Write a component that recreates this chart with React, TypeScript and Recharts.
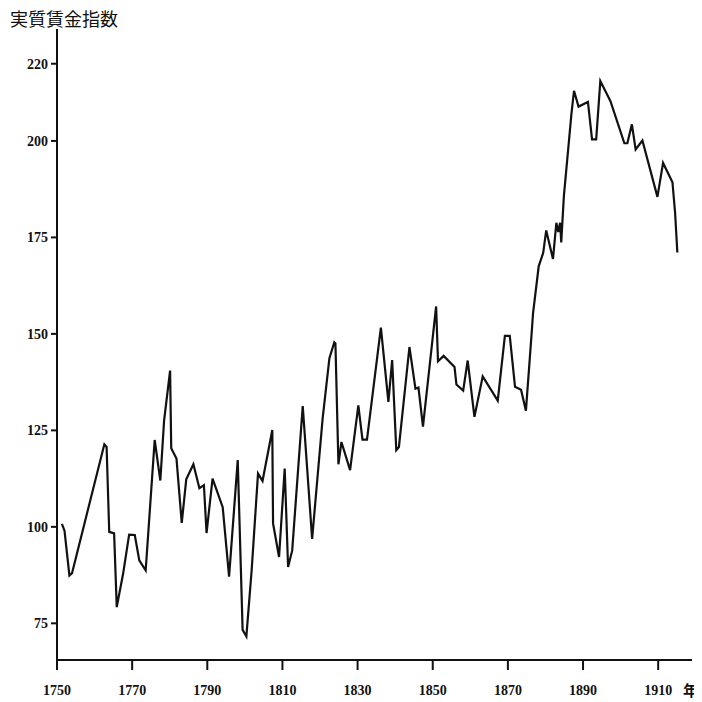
import { LineChart, Line, XAxis, YAxis } from "recharts";

// 実質賃金指数 (turning points of the curve)
const years = [
  1751.3, 1752, 1753.3, 1754, 1762.6, 1763.2, 1763.9, 1765.2, 1765.9, 1767.6,
  1769.2, 1770.7, 1771.9, 1773.6, 1776, 1777.5, 1778.5, 1780.1, 1780.4, 1781.8,
  1783.2, 1784.4, 1786.3, 1787.9, 1789.1, 1789.8, 1791.4, 1794.1, 1795.8, 1798.1,
  1799.4, 1800.4, 1801.8, 1803.5, 1804.7, 1807.3, 1807.5, 1809.1, 1810.6, 1811.5,
  1812.6, 1815.4, 1817.9, 1820.7, 1822.5, 1823.8, 1824.1, 1824.9, 1825.7, 1828,
  1830.2, 1831.3, 1832.5, 1836.2, 1838.2, 1839.2, 1840.3, 1841, 1843.8, 1845.4,
  1846.2, 1847.4, 1850.9, 1851.4, 1852.9, 1855.8, 1856.3, 1858.1, 1859.3, 1861.1,
  1863.3, 1867.3, 1869.2, 1870.5, 1871.9, 1873.5, 1874.8, 1876.4, 1876.7, 1878.2,
  1879.4, 1880.2, 1882, 1882.9, 1883.4, 1883.9, 1884.2, 1884.9, 1886.9, 1887.6,
  1888.8, 1891.3, 1892.4, 1893.5, 1894.6, 1897.3, 1901, 1901.8, 1903, 1904,
  1905.8, 1909.8, 1911.3, 1913.8, 1914.5, 1915.1,
];
const wageIndex = [
  100.8, 99, 87.4, 88, 121.4, 120.7, 98.7, 98.3, 79.2, 87.9,
  98, 97.9, 91.3, 88.7, 122.5, 112, 127.5, 140.5, 120.4, 117.7,
  101, 112.3, 116.2, 110, 110.8, 98.4, 112.5, 105.1, 87.1, 117.3,
  73.3, 71.6, 88.7, 113.8, 111.9, 125.1, 100.9, 92.2, 115.1, 89.6,
  93.9, 131.3, 96.9, 128.1, 143.7, 147.8, 147.5, 116.2, 122, 114.7,
  131.5, 122.6, 122.6, 151.6, 132.4, 143.2, 119.9, 120.7, 146.6, 135.8,
  136.1, 126, 157.1, 142.9, 144.3, 141.4, 136.9, 135.3, 143.1, 128.5,
  139, 132.7, 149.5, 149.5, 136.3, 135.5, 130.1, 151.2, 155.4, 167.5,
  171, 176.8, 169.4, 178.8, 176.4, 178.8, 173.7, 185.7, 206.9, 213,
  208.9, 210.1, 200.4, 200.4, 215.5, 210.3, 199.4, 199.4, 204.3, 197.8,
  200.1, 185.5, 194.3, 189.3, 181.4, 171.1,
];
const xTicks = [1750, 1770, 1790, 1810, 1830, 1850, 1870, 1890, 1910];
const yTicks = [75, 100, 125, 150, 175, 200, 220];

const data = years.map((y, i) => ({ year: y, value: wageIndex[i] }));

const tickFont = { fontFamily: "Liberation Serif", fontSize: 14, fontWeight: "bold", fill: "#111" };

export default function App() {
  return (
    <div style={{ position: "relative", width: 694, height: 694 }}>
      <LineChart width={694} height={694} data={data} margin={{ top: 21, right: 10, bottom: 0, left: 0 }}>
        <XAxis
          dataKey="year"
          type="number"
          domain={[1750, 1919]}
          ticks={xTicks}
          height={42}
          tickSize={10}
          tickMargin={15}
          stroke="#111"
          strokeWidth={2}
          tick={tickFont}
        />
        <YAxis
          type="number"
          domain={[65.5, 229]}
          ticks={yTicks}
          width={49}
          tickSize={6}
          tickMargin={3}
          stroke="#111"
          strokeWidth={2}
          tick={tickFont}
        />
        <Line
          type="linear"
          dataKey="value"
          stroke="#111"
          strokeWidth={2.2}
          dot={false}
          isAnimationActive={false}
        />
      </LineChart>
      <div
        style={{
          position: "absolute", left: 2, top: 0, fontSize: 18, lineHeight: "20px",
          fontFamily: "Noto Sans CJK JP", color: "#111", whiteSpace: "nowrap",
        }}
      >
        実質賃金指数
      </div>
      <div
        style={{
          position: "absolute", left: 675, top: 674, fontSize: 15, lineHeight: "16px",
          fontWeight: "bold", fontFamily: "Noto Sans CJK JP", color: "#111",
          whiteSpace: "nowrap", width: 16,
        }}
      >
        年
      </div>
    </div>
  );
}
